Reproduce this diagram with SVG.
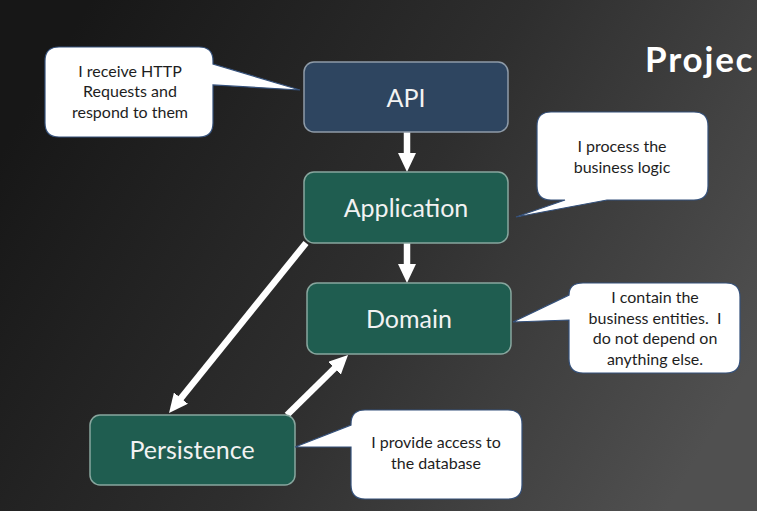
<svg xmlns="http://www.w3.org/2000/svg" width="757" height="511" viewBox="0 0 757 511">
  <defs>
    <linearGradient id="bg" x1="0" y1="0.3" x2="1" y2="0.7">
      <stop offset="0" stop-color="#171717"/>
      <stop offset="0.5" stop-color="#2e2e2e"/>
      <stop offset="1" stop-color="#505050"/>
    </linearGradient>
    <marker id="head" viewBox="0 0 19 18" refX="9" refY="9" markerWidth="19" markerHeight="18" markerUnits="userSpaceOnUse" orient="auto">
      <path d="M0 0 L19 9 L0 18 Z" fill="#ffffff"/>
    </marker>
  </defs>
  <style>
    .node-blue { fill: #2e4560; stroke: #8e9ba8; stroke-width: 1.5; }
    .node-green { fill: #1f5d50; stroke: #88a69e; stroke-width: 1.5; }
    .label { font-family: Lato, "Liberation Sans", sans-serif; font-size: 25px; fill: #f2f2f2; text-anchor: middle; }
    .callout { fill: #ffffff; stroke: #34507a; stroke-width: 1.2; }
    .ctext { font-family: Lato, "Liberation Sans", sans-serif; font-size: 16px; fill: #1e1e1e; text-anchor: middle; }
    .conn { stroke: #ffffff; stroke-width: 6.5; fill: none; marker-end: url(#head); }
    .title { font-family: Lato, "Liberation Sans", sans-serif; font-size: 35px; font-weight: bold; fill: #ffffff; letter-spacing: 1.8px; }
  </style>
  <rect x="0" y="0" width="757" height="511" fill="url(#bg)"/>
  <text class="title" x="645" y="72">Projec</text>

  <g id="connectors">
    <line class="conn" x1="407" y1="132" x2="407" y2="162"/>
    <line class="conn" x1="407" y1="243" x2="407" y2="273"/>
    <line class="conn" x1="306" y1="243" x2="175.3" y2="405.2"/>
    <line class="conn" x1="287" y1="415" x2="340.9" y2="362"/>
  </g>

  <g id="api">
    <rect class="node-blue" x="304" y="62" width="204" height="70" rx="10"/>
    <text class="label" x="406" y="107">API</text>
  </g>
  <g id="application">
    <rect class="node-green" x="304" y="172" width="204" height="71" rx="10"/>
    <text class="label" x="406" y="217">Application</text>
  </g>
  <g id="domain">
    <rect class="node-green" x="307" y="283" width="204" height="71" rx="10"/>
    <text class="label" x="409" y="328">Domain</text>
  </g>
  <g id="persistence">
    <rect class="node-green" x="90" y="415" width="205" height="70" rx="10"/>
    <text class="label" x="192" y="459">Persistence</text>
  </g>

  <g id="callout-api">
    <path class="callout" d="M59 47 H199 Q213 47 213 61 V64 L300 90 L213 85 V123 Q213 137 199 137 H59 Q45 137 45 123 V61 Q45 47 59 47 Z"/>
    <text class="ctext" x="130" y="77">I receive HTTP</text>
    <text class="ctext" x="130" y="97">Requests and</text>
    <text class="ctext" x="130" y="118">respond to them</text>
  </g>
  <g id="callout-application">
    <path class="callout" d="M551 112 H694 Q708 112 708 126 V186 Q708 200 694 200 H607 L516 217 L565 200 H551 Q537 200 537 186 V126 Q537 112 551 112 Z"/>
    <text class="ctext" x="622" y="152">I process the</text>
    <text class="ctext" x="622" y="173">business logic</text>
  </g>
  <g id="callout-domain">
    <path class="callout" d="M583 283 H726 Q740 283 740 297 V359 Q740 373 726 373 H583 Q569 373 569 359 V320 L513 322 L569 295 Q569 283 583 283 Z"/>
    <text class="ctext" x="655" y="303">I contain the</text>
    <text class="ctext" x="655" y="324" xml:space="preserve">business entities.  I</text>
    <text class="ctext" x="655" y="344">do not depend on</text>
    <text class="ctext" x="655" y="365">anything else.</text>
  </g>
  <g id="callout-persistence">
    <path class="callout" d="M365 410 H508 Q522 410 522 424 V485 Q522 499 508 499 H365 Q351 499 351 485 V447 L295 447 L351 425 V424 Q351 410 365 410 Z"/>
    <text class="ctext" x="436" y="448">I provide access to</text>
    <text class="ctext" x="436" y="469">the database</text>
  </g>
</svg>
